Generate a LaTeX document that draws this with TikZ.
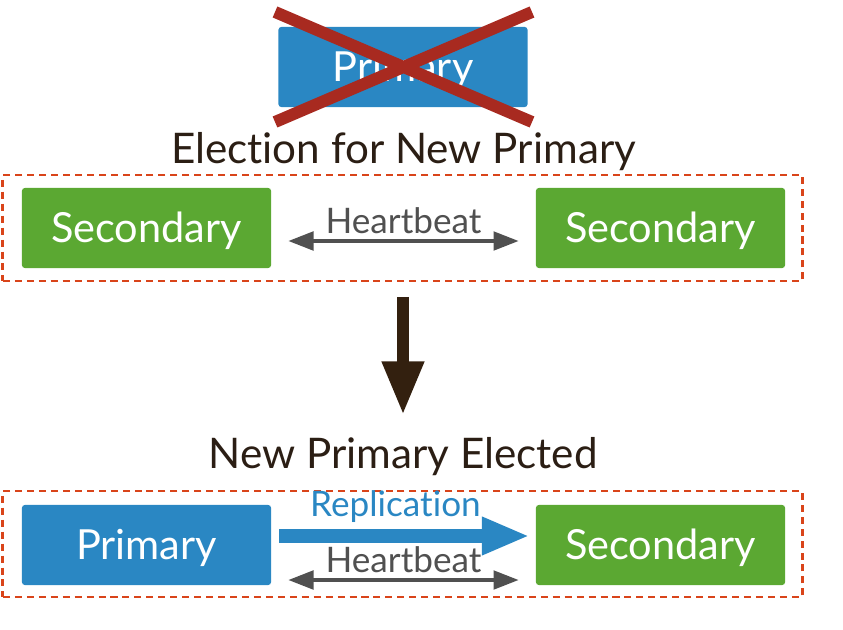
\documentclass[tikz,border=0pt]{standalone}
\usepackage{fontspec}
\setmainfont{Lato}[Ligatures={NoCommon,NoRare,NoDiscretionary}]
\usetikzlibrary{arrows.meta}

\definecolor{primblue}{HTML}{2A87C3}
\definecolor{secgreen}{HTML}{5BA832}
\definecolor{crossred}{HTML}{A82A20}
\definecolor{dashred}{HTML}{D9441A}
\definecolor{hbgray}{HTML}{505050}
\definecolor{bigbrown}{HTML}{33200F}
\definecolor{titletext}{HTML}{2B1E14}

\begin{document}
\begin{tikzpicture}[x=0.025cm, y=-0.025cm,
    member/.style={rounded corners=2pt, minimum width=6.225cm, minimum height=2cm,
      text=white, font=\fontsize{29.5}{31}\selectfont, text depth=0.05cm},
    primbox/.style={member, fill=primblue},
    secbox/.style={member, fill=secgreen},
    grpbox/.style={draw=dashred, line width=2pt, dash pattern=on 5pt off 3.5pt,
      minimum width=19.975cm, minimum height=2.65cm},
    heading/.style={text=titletext, font=\fontsize{30}{32}\selectfont},
    hbarrow/.style={hbgray, line width=3pt,
      {Triangle[length=18pt,width=13pt]}-{Triangle[length=18pt,width=13pt]}},
    hblabel/.style={text=hbgray, font=\fontsize{25}{27}\selectfont},
    reparrow/.style={primblue, line width=10pt, -{Triangle[length=34pt,width=25pt]}},
    downarrow/.style={bigbrown, line width=8.5pt, -{Triangle[length=38pt,width=28pt]}}]
  \useasboundingbox (0,0) rectangle (843,630);

  % failed primary
  \node[primbox] (oldP) at (403,67) {Primary};
  \draw[crossred, line width=8.5pt] (275,12) -- (532,122) (275,122) -- (532,12);

  % election
  \node[heading] (elect) at (403.5,152) {Election for New Primary};
  \node[grpbox] (grpA) at (402.5,228) {};
  \node[secbox] (secA) at (146.5,228) {Secondary};
  \node[secbox] (secB) at (660.5,228) {Secondary};
  \draw[hbarrow, shorten <=12pt, shorten >=12pt]
    ([yshift=-0.325cm]secA.east) -- node[hblabel, above=0pt] {Heartbeat} ([yshift=-0.325cm]secB.west);

  % result
  \coordinate (arrTop) at (403,297);
  \node[heading] (elected) at (403,457) {New Primary Elected};
  \draw[downarrow] (arrTop) -- ([yshift=0.45cm]elected.north);

  \node[grpbox] (grpB) at (402.5,544) {};
  \node[primbox] (newP) at (146.5,545) {Primary};
  \node[secbox] (secC) at (660.5,545) {Secondary};
  \draw[reparrow, shorten <=5.7pt, shorten >=4.3pt]
    ([yshift=0.225cm]newP.east) -- node[text=primblue, font=\fontsize{25}{27}\selectfont, above=1pt, xshift=-0.2cm] {Replication} ([yshift=0.225cm]secC.west);
  \draw[hbarrow, shorten <=12pt, shorten >=12pt]
    ([yshift=-0.875cm]newP.east) -- node[hblabel, above=0pt] {Heartbeat} ([yshift=-0.875cm]secC.west);
\end{tikzpicture}
\end{document}
